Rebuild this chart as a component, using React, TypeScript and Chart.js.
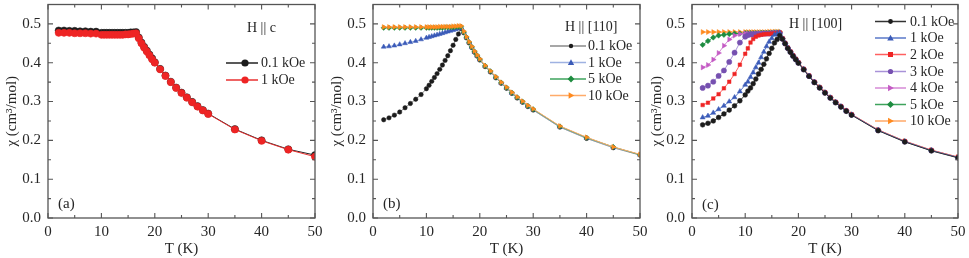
import React, { useEffect, useRef } from 'react';
import { Chart, registerables } from 'chart.js';
Chart.register(...registerables);

const FONT = '"Liberation Serif", "Times New Roman", Times, serif';
const TEXT = '#262626';
const FRAME = '#555555';

// ---------- data ----------
const temperatures = [2, 3, 4, 5, 6, 7, 8, 9, 10, 10.5, 11, 11.5, 12, 12.5, 13, 13.5, 14, 14.5, 15, 15.5, 16, 16.5,
  17, 17.5, 18, 18.5, 19, 19.5, 20, 21, 22, 23, 24, 25, 26, 27, 28, 29, 30, 35, 40, 45, 50];

const xTicks = [0, 10, 20, 30, 40, 50];
const xTickLabels = ['0', '10', '20', '30', '40', '50'];
const yTicks = [0, 0.1, 0.2, 0.3, 0.4, 0.5];
const yTickLabels = ['0.0', '0.1', '0.2', '0.3', '0.4', '0.5'];

// Panel (a) H || c
const a_01kOe = [0.483, 0.483, 0.482, 0.482, 0.481, 0.481, 0.480, 0.480,
  0.477, 0.477, 0.477, 0.477, 0.477, 0.477, 0.477, 0.477, 0.477, 0.477, 0.477, 0.478, 0.478, 0.479,
  0.465, 0.452, 0.441, 0.431, 0.421, 0.411, 0.401,
  0.384, 0.367, 0.351, 0.336, 0.323, 0.311, 0.299, 0.288, 0.278, 0.269, 0.229, 0.200, 0.177, 0.162];
const a_1kOe = [0.477, 0.477, 0.477, 0.476, 0.476, 0.476, 0.475, 0.475,
  0.472, 0.472, 0.472, 0.472, 0.472, 0.472, 0.472, 0.472, 0.472, 0.473, 0.473, 0.474, 0.475, 0.476,
  0.463, 0.450, 0.439, 0.429, 0.419, 0.409, 0.400,
  0.383, 0.366, 0.350, 0.335, 0.322, 0.310, 0.298, 0.287, 0.277, 0.268, 0.228, 0.199, 0.176, 0.158];

// Panel (b) H || [110]
const b_01kOe = [0.253, 0.258, 0.265, 0.273, 0.284, 0.295, 0.306, 0.318,
  0.333, 0.342, 0.352, 0.362, 0.372, 0.383, 0.394, 0.406, 0.418, 0.431, 0.445, 0.460, 0.474, 0.488,
  0.477, 0.464, 0.451, 0.439, 0.427, 0.417, 0.407,
  0.390, 0.376, 0.361, 0.347, 0.334, 0.321, 0.309, 0.298, 0.287, 0.278, 0.234, 0.205, 0.181, 0.162];
const b_1kOe = [0.441, 0.442, 0.444, 0.447, 0.450, 0.453, 0.456, 0.460,
  0.464, 0.466, 0.468, 0.470, 0.472, 0.474, 0.476, 0.478, 0.480, 0.482, 0.484, 0.486, 0.488, 0.490,
  0.478, 0.465, 0.452, 0.440, 0.428, 0.418, 0.408,
  0.391, 0.377, 0.362, 0.348, 0.335, 0.322, 0.310, 0.299, 0.288, 0.279, 0.235, 0.206, 0.182, 0.163];
const b_5kOe = [0.490, 0.490, 0.490, 0.490, 0.490, 0.490, 0.490, 0.490,
  0.490, 0.490, 0.490, 0.490, 0.490, 0.490, 0.490, 0.491, 0.491, 0.491, 0.491, 0.492, 0.492, 0.493,
  0.479, 0.466, 0.453, 0.441, 0.429, 0.419, 0.409,
  0.392, 0.378, 0.363, 0.349, 0.336, 0.323, 0.311, 0.300, 0.289, 0.280, 0.236, 0.207, 0.183, 0.163];
const b_10kOe = [0.492, 0.492, 0.492, 0.492, 0.492, 0.492, 0.492, 0.492,
  0.492, 0.492, 0.492, 0.492, 0.492, 0.493, 0.493, 0.493, 0.493, 0.493, 0.494, 0.494, 0.495, 0.495,
  0.481, 0.467, 0.454, 0.442, 0.430, 0.420, 0.410,
  0.393, 0.379, 0.364, 0.350, 0.337, 0.324, 0.312, 0.301, 0.290, 0.281, 0.237, 0.208, 0.183, 0.164];

// Panel (c) H || [100]
const c_01kOe = [0.240, 0.244, 0.250, 0.259, 0.268, 0.278, 0.289, 0.302,
  0.317, 0.327, 0.335, 0.346, 0.358, 0.371, 0.383, 0.396, 0.410, 0.424, 0.437, 0.451, 0.460, 0.470,
  0.461, 0.449, 0.437, 0.427, 0.417, 0.408, 0.399,
  0.382, 0.365, 0.349, 0.335, 0.322, 0.309, 0.297, 0.286, 0.275, 0.265, 0.225, 0.196, 0.173, 0.155];
const c_1kOe = [0.259, 0.263, 0.271, 0.280, 0.289, 0.300, 0.311, 0.326,
  0.343, 0.351, 0.363, 0.375, 0.388, 0.400, 0.414, 0.428, 0.442, 0.454, 0.463, 0.472, 0.475, 0.477,
  0.462, 0.450, 0.438, 0.428, 0.418, 0.409, 0.400,
  0.383, 0.366, 0.350, 0.336, 0.323, 0.310, 0.298, 0.287, 0.276, 0.266, 0.226, 0.197, 0.174, 0.156];
const c_2kOe = [0.291, 0.297, 0.308, 0.319, 0.334, 0.351, 0.371, 0.395,
  0.423, 0.437, 0.452, 0.461, 0.467, 0.470, 0.472, 0.473, 0.474, 0.474, 0.475, 0.475, 0.476, 0.478,
  0.463, 0.451, 0.439, 0.429, 0.419, 0.410, 0.401,
  0.384, 0.367, 0.351, 0.337, 0.324, 0.311, 0.299, 0.288, 0.277, 0.267, 0.227, 0.198, 0.175, 0.157];
const c_3kOe = [0.335, 0.341, 0.351, 0.366, 0.380, 0.402, 0.426, 0.452,
  0.467, 0.471, 0.473, 0.473, 0.474, 0.474, 0.474, 0.475, 0.475, 0.475, 0.476, 0.476, 0.476, 0.477,
  0.462, 0.450, 0.438, 0.428, 0.418, 0.409, 0.400,
  0.383, 0.366, 0.350, 0.336, 0.323, 0.310, 0.298, 0.287, 0.276, 0.266, 0.226, 0.197, 0.174, 0.156];
const c_4kOe = [0.388, 0.394, 0.408, 0.425, 0.444, 0.460, 0.470, 0.474,
  0.475, 0.475, 0.475, 0.475, 0.475, 0.476, 0.476, 0.476, 0.476, 0.476, 0.476, 0.477, 0.477, 0.477,
  0.462, 0.450, 0.438, 0.428, 0.418, 0.409, 0.400,
  0.383, 0.366, 0.350, 0.336, 0.323, 0.310, 0.298, 0.287, 0.276, 0.266, 0.226, 0.197, 0.174, 0.156];
const c_5kOe = [0.446, 0.456, 0.465, 0.470, 0.472, 0.474, 0.475, 0.475,
  0.476, 0.476, 0.476, 0.476, 0.476, 0.476, 0.477, 0.477, 0.477, 0.477, 0.477, 0.478, 0.478, 0.478,
  0.462, 0.450, 0.438, 0.428, 0.418, 0.409, 0.400,
  0.383, 0.366, 0.350, 0.336, 0.323, 0.310, 0.298, 0.287, 0.276, 0.266, 0.226, 0.197, 0.174, 0.156];
const c_10kOe = [0.479, 0.479, 0.479, 0.479, 0.479, 0.479, 0.479, 0.479,
  0.479, 0.479, 0.479, 0.479, 0.479, 0.479, 0.479, 0.479, 0.479, 0.480, 0.480, 0.480, 0.480, 0.480,
  0.463, 0.451, 0.439, 0.429, 0.419, 0.410, 0.401,
  0.384, 0.367, 0.351, 0.337, 0.324, 0.311, 0.299, 0.288, 0.277, 0.267, 0.227, 0.198, 0.175, 0.157];

// ---------- styling ----------
type Series = {
  label: string; values: number[]; color: string; line: string;
  style: string; radius: number; rotation?: number; order: number;
};
type Panel = {
  left: number; width: number; axisLeft: number; padRight: number;
  series: Series[];
  title: string; titleX: number; titleY: number;
  rowsY: number[]; lineX0: number; lineX1: number; markX: number; textX: number;
  tag: string; tagX: number; tagY: number;
};

const BLACK = '#1c1c1c', BLUE = '#3b5bb8', RED = '#ee2424', PURPLE = '#7650b0',
  MAGENTA = '#c45ac4', GREEN = '#1e8c40', ORANGE = '#ff8a1e';

const panels: Panel[] = [
  {
    left: 0, width: 330, axisLeft: 48, padRight: 15,
    series: [
      { label: '0.1 kOe', values: a_01kOe, color: BLACK, line: '#222222', style: 'circle', radius: 3.6, order: 2 },
      { label: '1 kOe', values: a_1kOe, color: RED, line: '#e83030', style: 'circle', radius: 3.6, order: 1 },
    ],
    title: 'H || c', titleX: 247, titleY: 28,
    rowsY: [63, 80], lineX0: 226, lineX1: 258, markX: 245, textX: 261,
    tag: '(a)', tagX: 58, tagY: 204,
  },
  {
    left: 325, width: 325, axisLeft: 48, padRight: 10,
    series: [
      { label: '0.1 kOe', values: b_01kOe, color: BLACK, line: '#8a8a8a', style: 'circle', radius: 2.2, order: 4 },
      { label: '1 kOe', values: b_1kOe, color: BLUE, line: '#9fb2e2', style: 'triangle', radius: 2.8, order: 3 },
      { label: '5 kOe', values: b_5kOe, color: GREEN, line: '#3ea35c', style: 'rectRot', radius: 2.6, order: 2 },
      { label: '10 kOe', values: b_10kOe, color: ORANGE, line: '#ffab6a', style: 'triangle', radius: 2.8, rotation: 90, order: 1 },
    ],
    title: 'H || [110]', titleX: 565, titleY: 27,
    rowsY: [46, 62.5, 79, 95.5], lineX0: 550, lineX1: 586, markX: 571, textX: 588,
    tag: '(b)', tagX: 383, tagY: 204,
  },
  {
    left: 645, width: 324, axisLeft: 47, padRight: 11,
    series: [
      { label: '0.1 kOe', values: c_01kOe, color: BLACK, line: '#333333', style: 'circle', radius: 2.4, order: 1 },
      { label: '1 kOe', values: c_1kOe, color: BLUE, line: '#5a78c8', style: 'triangle', radius: 2.9, order: 2 },
      { label: '2 kOe', values: c_2kOe, color: RED, line: '#ff6060', style: 'rect', radius: 2.5, order: 3 },
      { label: '3 kOe', values: c_3kOe, color: PURPLE, line: '#a892d8', style: 'circle', radius: 2.6, order: 4 },
      { label: '4 kOe', values: c_4kOe, color: MAGENTA, line: '#d68ad6', style: 'triangle', radius: 2.9, rotation: 90, order: 5 },
      { label: '5 kOe', values: c_5kOe, color: GREEN, line: '#3ea35c', style: 'rectRot', radius: 2.7, order: 6 },
      { label: '10 kOe', values: c_10kOe, color: ORANGE, line: '#ffa868', style: 'triangle', radius: 2.9, rotation: 90, order: 7 },
    ],
    title: 'H || [100]', titleX: 789, titleY: 24,
    rowsY: [21.5, 38, 54.5, 71.5, 88, 104.5, 121], lineX0: 875, lineX1: 906, markX: 890.5, textX: 910,
    tag: '(c)', tagX: 702, tagY: 205,
  },
];

function drawMarker(ctx: CanvasRenderingContext2D, style: string, x: number, y: number, r: number, rot: number, color: string) {
  ctx.save();
  ctx.translate(x, y);
  ctx.rotate((rot * Math.PI) / 180);
  ctx.fillStyle = color;
  ctx.beginPath();
  if (style === 'circle') {
    ctx.arc(0, 0, r, 0, Math.PI * 2);
  } else if (style === 'triangle') {
    const s = r * 1.5;
    ctx.moveTo(0, -r * 1.15);
    ctx.lineTo(s * 0.75, r * 0.85);
    ctx.lineTo(-s * 0.75, r * 0.85);
    ctx.closePath();
  } else if (style === 'rect') {
    ctx.rect(-r, -r, 2 * r, 2 * r);
  } else {
    ctx.moveTo(0, -r * 1.3);
    ctx.lineTo(r * 1.3, 0);
    ctx.lineTo(0, r * 1.3);
    ctx.lineTo(-r * 1.3, 0);
    ctx.closePath();
  }
  ctx.fill();
  ctx.restore();
}

function makePlugin(panel: Panel) {
  return {
    id: 'frameAndLegend',
    afterDatasetsDraw(chart: any) {
      const ctx: CanvasRenderingContext2D = chart.ctx;
      const { left, right, top, bottom } = chart.chartArea;
      const xs = chart.scales.x;
      const ys = chart.scales.y;
      const off = panel.left;
      ctx.save();
      ctx.strokeStyle = FRAME;
      ctx.lineWidth = 1.3;
      ctx.strokeRect(left, top, right - left, bottom - top);
      ctx.lineWidth = 1.1;
      ctx.beginPath();
      xTicks.forEach((v, i) => {
        const px = xs.getPixelForValue(v);
        ctx.moveTo(px, bottom); ctx.lineTo(px, bottom - 5);
        ctx.moveTo(px, top); ctx.lineTo(px, top + 5);
        if (i < xTicks.length - 1) {
          const pm = xs.getPixelForValue((v + xTicks[i + 1]) / 2);
          ctx.moveTo(pm, bottom); ctx.lineTo(pm, bottom - 3);
          ctx.moveTo(pm, top); ctx.lineTo(pm, top + 3);
        }
      });
      yTicks.forEach((v, i) => {
        const py = ys.getPixelForValue(v);
        ctx.moveTo(left, py); ctx.lineTo(left + 5, py);
        ctx.moveTo(right, py); ctx.lineTo(right - 5, py);
        const next = i < yTicks.length - 1 ? yTicks[i + 1] : v + 0.1;
        const vm = (v + next) / 2;
        if (vm < ys.max) {
          const pm = ys.getPixelForValue(vm);
          ctx.moveTo(left, pm); ctx.lineTo(left + 3, pm);
          ctx.moveTo(right, pm); ctx.lineTo(right - 3, pm);
        }
      });
      ctx.stroke();

      // legend
      ctx.fillStyle = TEXT;
      ctx.font = `14px ${FONT}`;
      ctx.textBaseline = 'middle';
      ctx.textAlign = 'left';
      ctx.fillText(panel.title, panel.titleX - off, panel.titleY);
      panel.series.forEach((s, i) => {
        const y = panel.rowsY[i];
        ctx.strokeStyle = s.line;
        ctx.lineWidth = 1.5;
        ctx.beginPath();
        ctx.moveTo(panel.lineX0 - off, y);
        ctx.lineTo(panel.lineX1 - off, y);
        ctx.stroke();
        drawMarker(ctx, s.style, panel.markX - off, y, s.radius, s.rotation || 0, s.color);
        ctx.fillStyle = TEXT;
        ctx.fillText(s.label, panel.textX - off, y + 0.5);
      });
      ctx.font = `15px ${FONT}`;
      ctx.fillText(panel.tag, panel.tagX - off, panel.tagY);
      ctx.restore();
    },
  };
}

function PanelChart({ panel }: { panel: Panel }) {
  const ref = useRef<HTMLCanvasElement | null>(null);
  useEffect(() => {
    if (!ref.current) return;
    const datasets = panel.series.map((s) => ({
      label: s.label,
      data: temperatures.map((t, k) => ({ x: t, y: s.values[k] })),
      borderColor: s.line,
      backgroundColor: s.color,
      pointBackgroundColor: s.color,
      pointBorderColor: s.color,
      pointBorderWidth: 0.5,
      borderWidth: 1,
      pointRadius: s.radius,
      pointStyle: s.style,
      pointRotation: s.rotation || 0,
      order: s.order,
      tension: 0,
      clip: 0,
    }));
    const chart = new Chart(ref.current, {
      type: 'line',
      data: { datasets },
      plugins: [makePlugin(panel)],
      options: {
        animation: false,
        responsive: false,
        devicePixelRatio: 1,
        layout: { padding: { top: 4, right: panel.padRight, left: 0, bottom: 0 } },
        plugins: { legend: { display: false }, tooltip: { enabled: false } },
        scales: {
          x: {
            type: 'linear', min: 0, max: 50,
            afterBuildTicks: (sc: any) => { sc.ticks = xTicks.map((v) => ({ value: v })); },
            afterFit: (sc: any) => {
              sc.height = 40; sc.paddingLeft = 0; sc.paddingRight = 0; sc.paddingTop = 0; sc.paddingBottom = 0;
            },
            grid: { display: false, drawTicks: false },
            border: { display: false },
            ticks: {
              padding: 5, color: TEXT, font: { family: FONT, size: 15 }, maxRotation: 0, autoSkip: false,
              callback: (_v: any, i: number) => xTickLabels[i],
            },
            title: { display: true, text: 'T (K)', color: TEXT, font: { family: FONT, size: 15 }, padding: { top: 0, bottom: 0 } },
          },
          y: {
            type: 'linear', min: 0, max: 0.55,
            afterBuildTicks: (sc: any) => { sc.ticks = yTicks.map((v) => ({ value: v })); },
            afterFit: (sc: any) => {
              sc.width = panel.axisLeft; sc.paddingLeft = 0; sc.paddingRight = 0; sc.paddingTop = 0; sc.paddingBottom = 0;
            },
            grid: { display: false, drawTicks: false },
            border: { display: false },
            ticks: {
              padding: 7, color: TEXT, font: { family: FONT, size: 15 }, autoSkip: false,
              callback: (_v: any, i: number) => yTickLabels[i],
            },
            title: { display: true, text: 'χ (cm³/mol)', color: TEXT, font: { family: FONT, size: 15 }, padding: { top: 3, bottom: 0 } },
          },
        },
      } as any,
    });
    return () => chart.destroy();
  }, [panel]);
  return (
    <canvas
      ref={ref}
      width={panel.width}
      height={258}
      style={{ position: 'absolute', left: panel.left, top: 0, width: panel.width, height: 258 }}
    />
  );
}

export default function App() {
  return (
    <div style={{ position: 'absolute', left: 0, top: 0, width: 969, height: 258, background: '#ffffff', overflow: 'hidden' }}>
      {panels.map((p) => (
        <PanelChart key={p.tag} panel={p} />
      ))}
    </div>
  );
}
